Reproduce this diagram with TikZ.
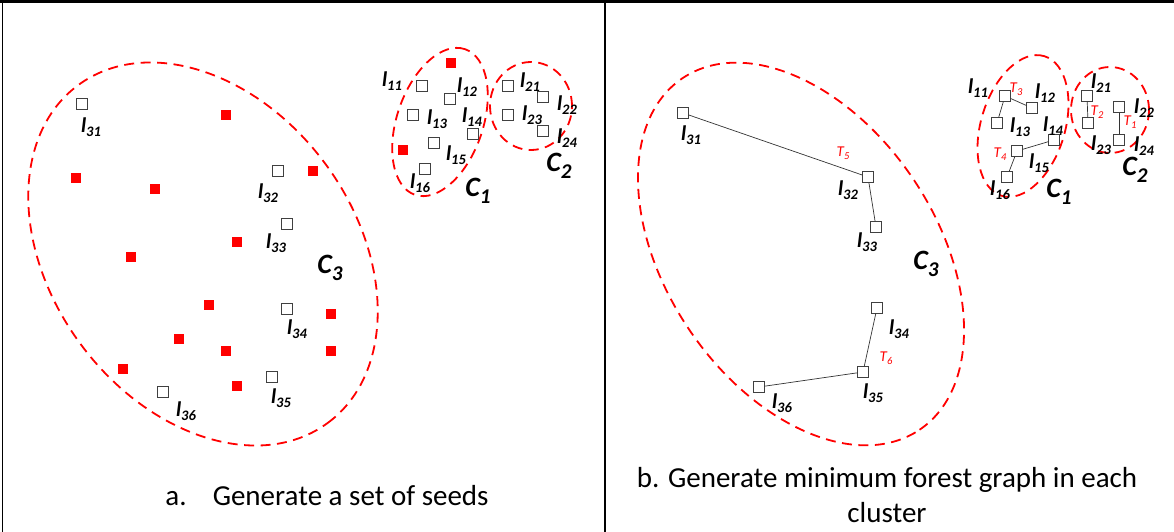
\documentclass[tikz,border=0pt]{standalone}
\usepackage{fontspec}
\setmainfont{Carlito}
\newcommand\ML[1]{{\fontsize{21}{21}\selectfont\bfseries\itshape l}\raisebox{-4.5pt}{\fontsize{14.5}{14.5}\selectfont\bfseries\itshape #1}}
\newcommand\MC[1]{{\fontsize{28}{28}\selectfont\bfseries\itshape C}\raisebox{-6.5pt}{\fontsize{21}{21}\selectfont\bfseries\itshape #1}}
\newcommand\MT[1]{{\fontsize{15}{15}\selectfont\itshape T}\raisebox{-3pt}{\fontsize{10.5}{10.5}\selectfont\itshape #1}}
\begin{document}
\begin{tikzpicture}[x=1pt,y=-1pt,
  lm/.style={draw=black!75, fill=white, line width=0.8pt, minimum size=10.5pt, inner sep=0pt},
  seed/.style={fill=red, minimum size=10pt, inner sep=0pt},
  clus/.style={draw=red, dash pattern=on 10pt off 6.5pt, line width=1.8pt},
  lt/.style={inner sep=0pt},
  edge/.style={draw=black!80, line width=0.7pt},
  tl/.style={text=red, inner sep=0pt},
  captext/.style={inner sep=0pt, font=\fontsize{29}{35}\selectfont, align=center}]
\useasboundingbox (0,0) rectangle (1174,532);
% frame
\draw[line width=3pt] (0,1.5) -- (1174,1.5);
\draw[line width=1.5pt] (2.5,0) -- (2.5,532);
\draw[line width=1.5pt] (605,0) -- (605,532);

% ---------- left panel ----------
\draw[clus, rotate around={-53.5:(203,254)}] (203,254) ellipse [x radius=210pt, y radius=152pt];
\draw[clus, rotate around={71:(440,122)}] (440,122) ellipse [x radius=77pt, y radius=43pt];
\draw[clus] (531,106) ellipse [x radius=41pt, y radius=44pt];

\node[lm] (a31) at (82,104) {};
\node[lm] (a32) at (278,171) {};
\node[lm] (a33) at (287,224) {};
\node[lm] (a34) at (287,309) {};
\node[lm] (a35) at (272,377) {};
\node[lm] (a36) at (163,392) {};
\node[lt] (la31) at (91,127) {\ML{31}};
\node[lt] (la32) at (268,193) {\ML{32}};
\node[lt] (la33) at (276,243) {\ML{33}};
\node[lt] (la34) at (297,329) {\ML{34}};
\node[lt] (la35) at (281,398) {\ML{35}};
\node[lt] (la36) at (186,411) {\ML{36}};
\node[lt] (ca3) at (330,268) {\MC{3}};

\node[seed] (s1) at (226,115) {};
\node[seed] (s2) at (313,171) {};
\node[seed] (s3) at (76,178) {};
\node[seed] (s4) at (155,189) {};
\node[seed] (s5) at (237,242) {};
\node[seed] (s6) at (131,257) {};
\node[seed] (s7) at (209,305) {};
\node[seed] (s8) at (331,314) {};
\node[seed] (s9) at (179,339) {};
\node[seed] (s10) at (226,351) {};
\node[seed] (s11) at (331,351) {};
\node[seed] (s12) at (123,369) {};
\node[seed] (s13) at (237,386) {};
\node[seed] (s14) at (451,63) {};
\node[seed] (s15) at (403,150) {};

\node[lm] (a11) at (422,86) {};
\node[lm] (a12) at (450,99) {};
\node[lm] (a13) at (413,115) {};
\node[lm] (a14) at (473,134) {};
\node[lm] (a15) at (434,143) {};
\node[lm] (a16) at (425,169) {};
\node[lt] (la11) at (392,81) {\ML{11}};
\node[lt] (la12) at (467,87) {\ML{12}};
\node[lt] (la13) at (437,119) {\ML{13}};
\node[lt] (la14) at (472,117) {\ML{14}};
\node[lt] (la15) at (456,155) {\ML{15}};
\node[lt] (la16) at (420,183) {\ML{16}};
\node[lt] (ca1) at (478,191) {\MC{1}};

\node[lm] (a21) at (508,86) {};
\node[lm] (a22) at (543,97) {};
\node[lm] (a23) at (508,115) {};
\node[lm] (a24) at (543,131) {};
\node[lt] (la21) at (530,82) {\ML{21}};
\node[lt] (la22) at (567,105) {\ML{22}};
\node[lt] (la23) at (532,115) {\ML{23}};
\node[lt] (la24) at (567,138) {\ML{24}};
\node[lt] (ca2) at (559,166) {\MC{2}};

\node[captext] (capa) at (327,496) {a.\hspace{0.9em}Generate a set of seeds};

% ---------- right panel ----------
\draw[clus, rotate around={-56:(801,254)}] (801,254) ellipse [x radius=212pt, y radius=135pt];
\draw[clus, rotate around={73:(1023,126)}] (1023,126) ellipse [x radius=73pt, y radius=42pt];
\draw[clus] (1110,110) ellipse [x radius=39pt, y radius=43pt];

\node[lm] (b31) at (683,113) {};
\node[lm] (b32) at (868,177) {};
\node[lm] (b33) at (876,227) {};
\node[lm] (b34) at (877,308) {};
\node[lm] (b35) at (863,372) {};
\node[lm] (b36) at (759,387) {};
\draw[edge] (b31) -- (b32);
\draw[edge] (b32) -- (b33);
\draw[edge] (b34) -- (b35);
\draw[edge] (b35) -- (b36);
\node[lt] (lb31) at (691,135) {\ML{31}};
\node[lt] (lb32) at (848,190) {\ML{32}};
\node[lt] (lb33) at (867,242) {\ML{33}};
\node[lt] (lb34) at (899,329) {\ML{34}};
\node[lt] (lb35) at (873,393) {\ML{35}};
\node[lt] (lb36) at (782,403) {\ML{36}};
\node[tl] (t5) at (843,153) {\MT{5}};
\node[tl] (t6) at (886,358) {\MT{6}};
\node[lt] (cb3) at (926,264) {\MC{3}};

\node[lm] (b11) at (1005,96) {};
\node[lm] (b12) at (1032,108) {};
\node[lm] (b13) at (997,123) {};
\node[lm] (b14) at (1054,140) {};
\node[lm] (b15) at (1017,151) {};
\node[lm] (b16) at (1007,177) {};
\draw[edge] (b11) -- (b12);
\draw[edge] (b11) -- (b13);
\draw[edge] (b14) -- (b15);
\draw[edge] (b15) -- (b16);
\node[lt] (lb11) at (978,88) {\ML{11}};
\node[lt] (lb12) at (1045,93) {\ML{12}};
\node[lt] (lb13) at (1020,127) {\ML{13}};
\node[lt] (lb14) at (1053,126) {\ML{14}};
\node[lt] (lb15) at (1039,163) {\ML{15}};
\node[lt] (lb16) at (1000,190) {\ML{16}};
\node[tl] (t3) at (1016,89) {\MT{3}};
\node[tl] (t4) at (1000,154) {\MT{4}};
\node[lt] (cb1) at (1059,192) {\MC{1}};

\node[lm] (b21) at (1087,96) {};
\node[lm] (b22) at (1119,107) {};
\node[lm] (b23) at (1088,123) {};
\node[lm] (b24) at (1119,140) {};
\draw[edge] (b21) -- (b23);
\draw[edge] (b22) -- (b24);
\node[lt] (lb21) at (1101,83) {\ML{21}};
\node[lt] (lb22) at (1144,108) {\ML{22}};
\node[lt] (lb23) at (1101,145) {\ML{23}};
\node[lt] (lb24) at (1144,146) {\ML{24}};
\node[tl] (t2) at (1097,112) {\MT{2}};
\node[tl] (t1) at (1130,122) {\MT{1}};
\node[lt] (cb2) at (1135,170) {\MC{2}};

\node[captext] (capb) at (887,495) {b. Generate minimum forest graph in each\\cluster};
\end{tikzpicture}
\end{document}
